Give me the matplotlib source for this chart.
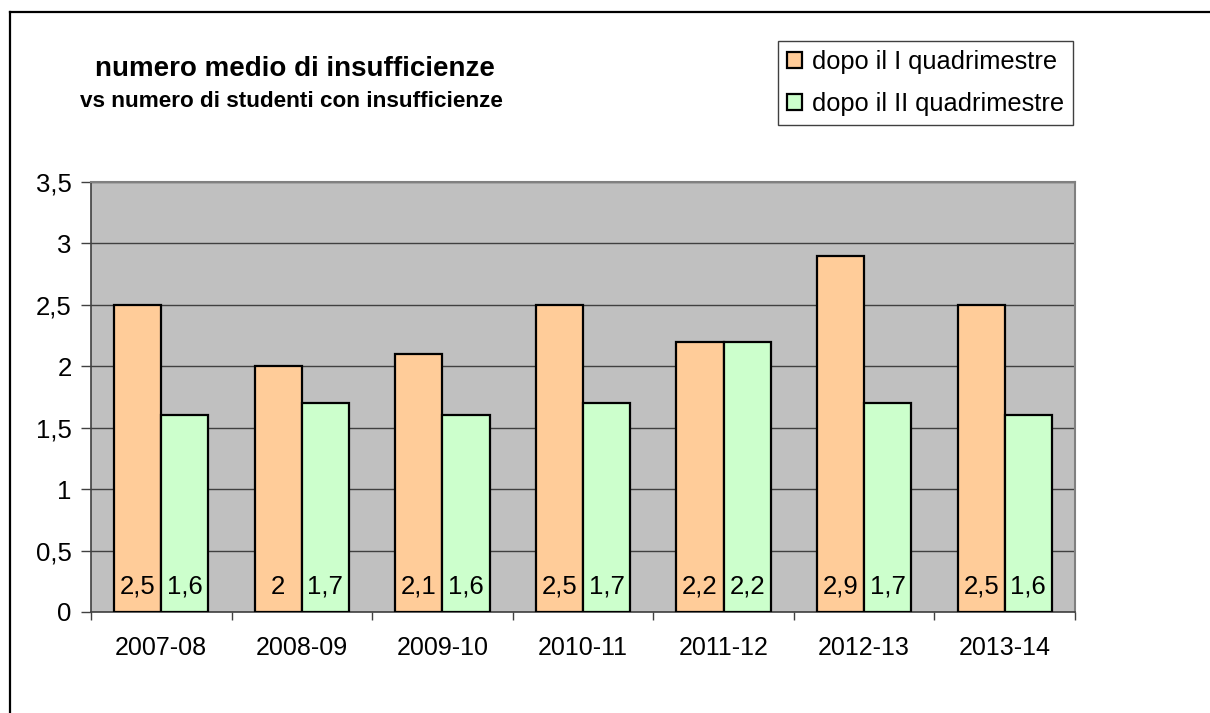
import matplotlib
matplotlib.use("Agg")
import matplotlib.pyplot as plt
from matplotlib.lines import Line2D
from matplotlib.ticker import FuncFormatter
import numpy as np

plt.rcParams["font.family"] = ["Liberation Sans", "DejaVu Sans"]

anni = ["2007-08", "2008-09", "2009-10", "2010-11", "2011-12", "2012-13", "2013-14"]
primo_quad = [2.5, 2, 2.1, 2.5, 2.2, 2.9, 2.5]
secondo_quad = [1.6, 1.7, 1.6, 1.7, 2.2, 1.7, 1.6]
etichette = ["dopo il I quadrimestre", "dopo il II quadrimestre"]


def virgola(v, _pos=None):
    s = f"{v:g}"
    return s.replace(".", ",")


fig = plt.figure(figsize=(12.1, 7.13), dpi=100)
ax = fig.add_axes([0.0752, 0.1417, 0.8132, 0.6030])
ax.set_facecolor("#C0C0C0")

x = np.arange(len(anni))
w = 0.335
b1 = ax.bar(x - w / 2, primo_quad, w, color="#FFCC99", edgecolor="black",
            linewidth=1.6, label=etichette[0], zorder=3)
b2 = ax.bar(x + w / 2, secondo_quad, w, color="#CCFFCC", edgecolor="black",
            linewidth=1.6, label=etichette[1], zorder=3)

# etichette dei valori in basso dentro le barre
for bars, vals in ((b1, primo_quad), (b2, secondo_quad)):
    for r, v in zip(bars, vals):
        ax.annotate(virgola(v), (r.get_x() + r.get_width() / 2, 0),
                    xytext=(0, 18), textcoords="offset points",
                    ha="center", va="center", fontsize=18.5, zorder=4)

ax.set_xlim(-0.5, len(anni) - 0.5)
ax.set_ylim(0, 3.5)
ax.set_yticks(np.arange(0, 3.51, 0.5))
ax.yaxis.set_major_formatter(FuncFormatter(virgola))
ax.set_xticks(x)
ax.set_xticklabels(anni)
ax.set_xticks(np.arange(-0.5, len(anni)), minor=True)
ax.tick_params(axis="x", which="major", length=0, labelsize=18, pad=17)
ax.tick_params(axis="x", which="minor", length=6, width=1, color="#404040")
ax.tick_params(axis="y", length=7, width=1, color="#404040", labelsize=18.5, pad=7)

ax.grid(axis="y", color="#404040", linewidth=1, zorder=1)
ax.set_axisbelow(True)
for s in ("top", "right"):
    ax.spines[s].set_color("#808080")
    ax.spines[s].set_linewidth(1.5)
for s in ("left", "bottom"):
    ax.spines[s].set_color("#404040")
    ax.spines[s].set_linewidth(1.2)

fig.text(0.2435, 0.903, "numero medio di insufficienze", ha="center", va="center",
         fontsize=20, fontweight="bold")
fig.text(0.2405, 0.857, "vs numero di studenti con insufficienze", ha="center",
         va="center", fontsize=16.2, fontweight="bold")

leg = fig.legend(handles=[b1, b2], labels=etichette, loc="upper left",
                 bbox_to_anchor=(0.643, 0.9425), borderaxespad=0, fontsize=18.3,
                 fancybox=False, edgecolor="#404040", framealpha=1,
                 handlelength=0.6, handleheight=0.6, handletextpad=0.4,
                 labelspacing=0.72, borderpad=0.35)
leg.get_frame().set_linewidth(1)

fig.add_artist(Line2D([0.0083, 0.0083], [0.0, 0.983], color="black", linewidth=1.6,
                      transform=fig.transFigure))
fig.add_artist(Line2D([0.0083, 1.0], [0.983, 0.983], color="black", linewidth=1.6,
                      transform=fig.transFigure))

fig.savefig("out.png", dpi=100)
